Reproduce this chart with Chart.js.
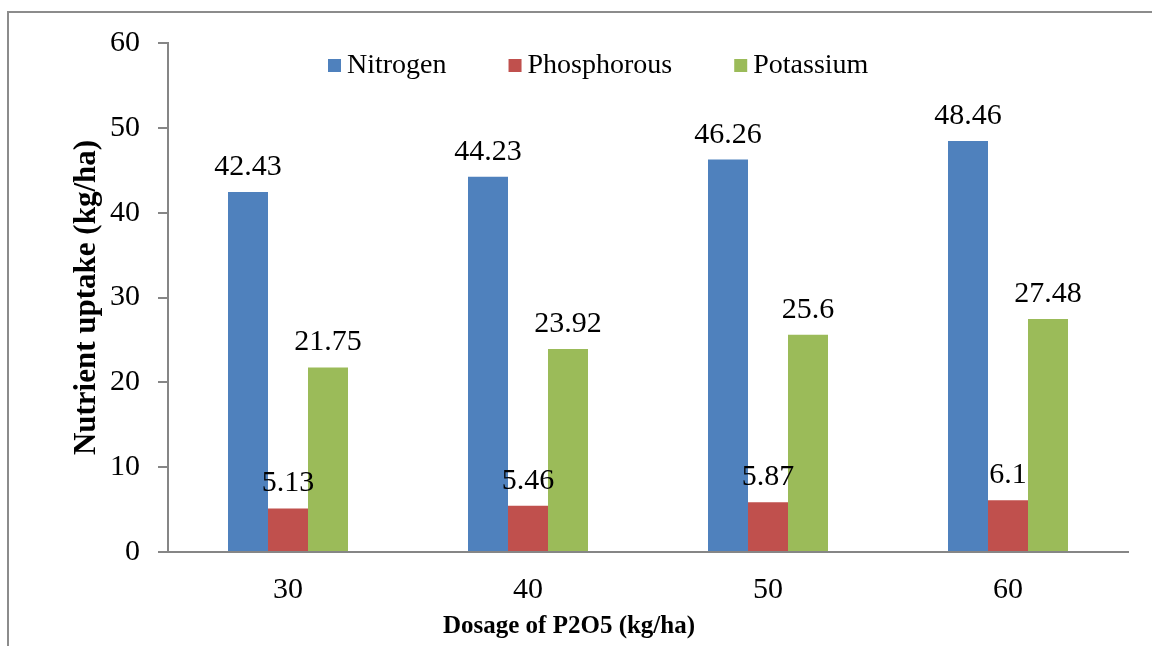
<!DOCTYPE html>
<html>
<head>
<meta charset="utf-8">
<script src="https://cdn.jsdelivr.net/npm/chart.js@4.4.1/dist/chart.umd.min.js"></script>
<style>
  html, body { margin: 0; padding: 0; background: #fff; }
  canvas { display: block; }
</style>
</head>
<body>
<canvas id="chart" width="1152" height="646"></canvas>
<script>
const categories = ["30", "40", "50", "60"];
const nitrogen = [42.43, 44.23, 46.26, 48.46];
const phosphorous = [5.13, 5.46, 5.87, 6.1];
const potassium = [21.75, 23.92, 25.6, 27.48];
const yTicks = [0, 10, 20, 30, 40, 50, 60];

const serif = "'Liberation Serif', 'Times New Roman', serif";
const axisGray = "#868686";

// outer frame (left + top edges only are visible in the picture)
const framePlugin = {
  id: "frame",
  beforeDraw(chart) {
    const ctx = chart.ctx;
    ctx.save();
    ctx.strokeStyle = "#8c8c8c";
    ctx.lineWidth = 2;
    ctx.beginPath();
    ctx.moveTo(8, 646);
    ctx.lineTo(8, 12);
    ctx.lineTo(1152, 12);
    ctx.stroke();
    ctx.restore();
  }
};

// value labels above bars
const valueLabels = {
  id: "valueLabels",
  afterDatasetsDraw(chart) {
    const ctx = chart.ctx;
    ctx.save();
    ctx.font = "30px " + serif;
    ctx.fillStyle = "#000";
    ctx.textAlign = "center";
    ctx.textBaseline = "alphabetic";
    chart.data.datasets.forEach((ds, i) => {
      chart.getDatasetMeta(i).data.forEach((bar, j) => {
        ctx.fillText(String(ds.data[j]), bar.x, bar.y - 17);
      });
    });
    ctx.restore();
  }
};

// legend inside the plot + x title, both sit left of centre in the original
const insideLegend = {
  id: "insideLegend",
  afterDraw(chart) {
    const ctx = chart.ctx;
    ctx.save();
    ctx.font = "28px " + serif;
    ctx.textBaseline = "middle";
    let x = 328;
    const y = 66;
    chart.data.datasets.forEach((ds) => {
      ctx.fillStyle = ds.backgroundColor;
      ctx.fillRect(x, y - 7, 13, 13);
      ctx.fillStyle = "#000";
      ctx.fillText(ds.label, x + 19, y);
      x += 19 + ctx.measureText(ds.label).width + 62;
    });

    ctx.font = "bold 25px " + serif;
    ctx.textAlign = "center";
    ctx.fillText("Dosage of P2O5 (kg/ha)", 569, 627);
    ctx.restore();
  }
};

new Chart(document.getElementById("chart"), {
  type: "bar",
  data: {
    labels: categories,
    datasets: [
      { label: "Nitrogen", data: nitrogen, backgroundColor: "#4F81BD" },
      { label: "Phosphorous", data: phosphorous, backgroundColor: "#C0504D" },
      { label: "Potassium", data: potassium, backgroundColor: "#9BBB59" }
    ]
  },
  options: {
    responsive: false,
    animation: false,
    devicePixelRatio: 1,
    categoryPercentage: 0.5,
    barPercentage: 1.0,
    layout: { padding: { top: 43, right: 24, bottom: 0, left: 0 } },
    plugins: {
      legend: { display: false },
      tooltip: { enabled: false }
    },
    scales: {
      x: {
        grid: { display: false },
        border: { display: true, color: axisGray, width: 2 },
        ticks: { color: "#000", font: { family: serif, size: 30 }, padding: 12 },
        title: { display: false },
        afterFit(scale) { scale.height = 94; }
      },
      y: {
        min: 0,
        max: 60,
        afterBuildTicks(scale) { scale.ticks = yTicks.map((v) => ({ value: v })); },
        grid: { drawOnChartArea: false, tickLength: 10, color: axisGray, lineWidth: 2 },
        border: { display: true, color: axisGray, width: 2 },
        ticks: { color: "#000", font: { family: serif, size: 30 }, padding: 18 },
        title: {
          display: true,
          text: "Nutrient uptake (kg/ha)",
          color: "#000",
          font: { family: serif, size: 31, weight: "bold" },
          padding: { top: 68, bottom: 0 }
        },
        afterFit(scale) { scale.width = 168; }
      }
    }
  },
  plugins: [framePlugin, valueLabels, insideLegend]
});
</script>
</body>
</html>
